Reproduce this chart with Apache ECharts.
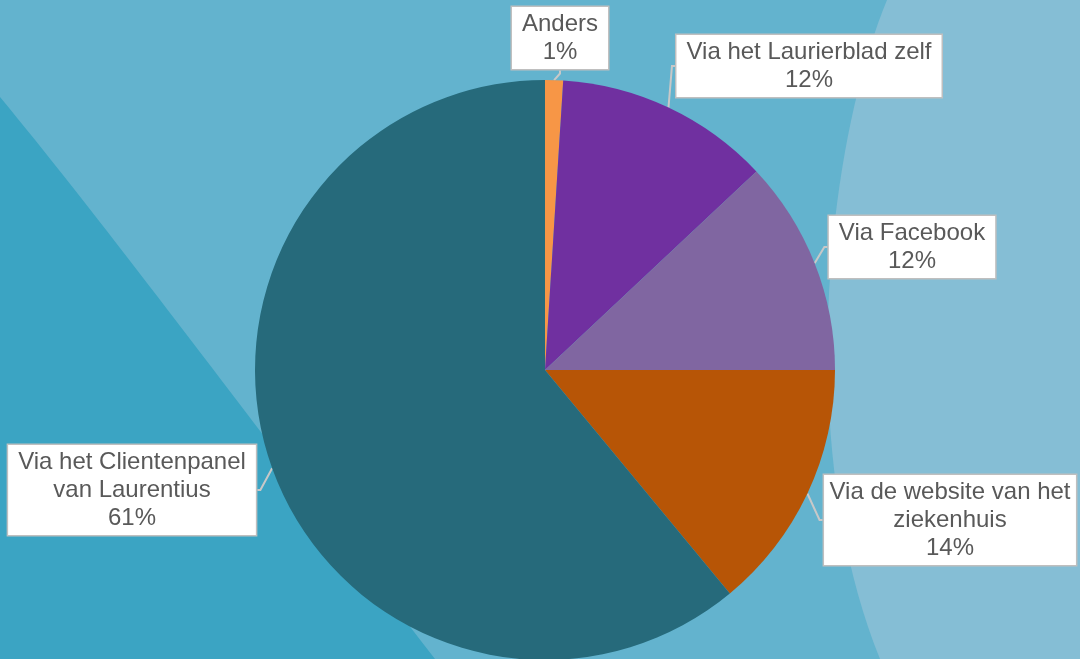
<!DOCTYPE html>
<html>
  <head>
    <meta charset="utf-8" />
    <title>Laurierblad</title>
    <script src="https://cdn.jsdelivr.net/npm/echarts@6/dist/echarts.min.js"></script>
    <style>
      html, body { margin: 0; padding: 0; }
      #chart { width: 1080px; height: 659px; }
    </style>
  </head>
  <body>
    <div id="chart"></div>
    <script type="text/javascript">
      // data (percent)
      var names = [
        "Anders",
        "Via het Laurierblad zelf",
        "Via Facebook",
        "Via de website van het\nziekenhuis",
        "Via het Clientenpanel\nvan Laurentius",
      ];
      var values = [1, 12, 12, 14, 61];
      var colors = ["#F79646", "#7030A0", "#8066A1", "#B75506", "#266A7B"];

      // where the callout boxes sit (box centres)
      var labelPos = [
        [560, 38],
        [809, 66],
        [912, 247],
        [950, 520],
        [132, 490],
      ];

      // background swooshes: sample a cubic curve into polygon points
      function curve(p0, p1, p2, p3, extra) {
        var pts = [];
        for (var k = 0; k <= 40; k++) {
          var t = k / 40, u = 1 - t;
          pts.push([
            u * u * u * p0[0] + 3 * u * u * t * p1[0] + 3 * u * t * t * p2[0] + t * t * t * p3[0],
            u * u * u * p0[1] + 3 * u * u * t * p1[1] + 3 * u * t * t * p2[1] + t * t * t * p3[1],
          ]);
        }
        return pts.concat(extra);
      }

      var pieData = [];
      for (var i = 0; i < names.length; i++) {
        pieData.push({ name: names[i], value: values[i], itemStyle: { color: colors[i] } });
      }

      var myChart = echarts.init(document.getElementById("chart"), null, { renderer: "canvas" });
      var option = {
        backgroundColor: "#63B3CE",
        animation: false,
        graphic: [
          {
            type: "polygon",
            z: -10,
            shape: { points: curve([0, 97], [110, 230], [250, 420], [435, 659], [[0, 659]]) },
            style: { fill: "#3BA4C3" },
          },
          {
            type: "polygon",
            z: -10,
            shape: { points: curve([887, 0], [825, 150], [795, 450], [880, 659], [[1080, 659], [1080, 0]]) },
            style: { fill: "#85BED5" },
          },
        ],
        series: [
          {
            type: "pie",
            center: [545, 370],
            radius: 290,
            startAngle: 90,
            clockwise: true,
            data: pieData,
            emphasis: { disabled: true },
            label: {
              show: true,
              position: "outside",
              formatter: function (p) {
                return p.name + "\n" + p.value + "%";
              },
              overflow: "none",
              color: "#595959",
              fontFamily: "Liberation Sans, Arial, sans-serif",
              fontSize: 24,
              lineHeight: 28,
              align: "center",
              backgroundColor: "#FFFFFF",
              borderColor: "#BFBFBF",
              borderWidth: 1.5,
              padding: [3, 10],
            },
            labelLine: {
              show: true,
              length: 3,
              length2: 3,
              lineStyle: { color: "#C8C8C8", width: 2 },
            },
            labelLayout: function (params) {
              var pos = labelPos[params.dataIndex];
              return { x: pos[0], y: pos[1], align: "center", verticalAlign: "middle" };
            },
          },
        ],
      };
      myChart.setOption(option);
    </script>
  </body>
</html>
